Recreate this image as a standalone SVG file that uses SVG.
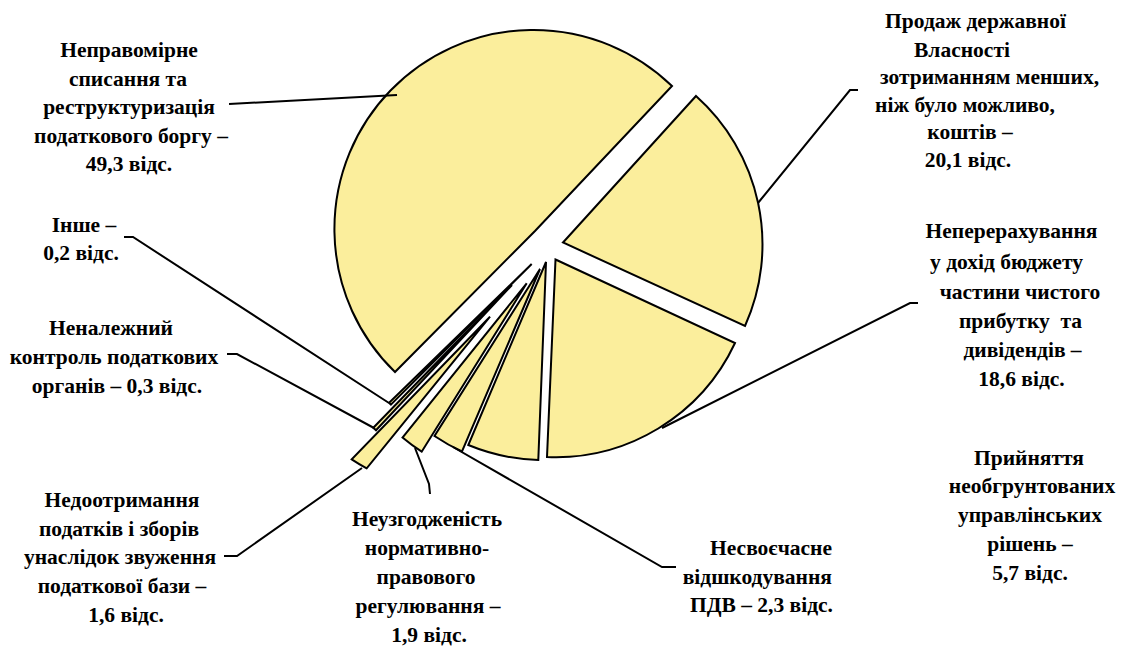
<svg xmlns="http://www.w3.org/2000/svg" width="1121" height="647" viewBox="0 0 1121 647">
<style>
.s{fill:#FBEE9C;stroke:#000;stroke-width:2;stroke-linejoin:miter}
.l{fill:none;stroke:#000;stroke-width:2}
.m{text-anchor:middle}
.e{text-anchor:end}
.p{white-space:pre}
</style>
<rect width="1121" height="647" fill="#fff"/>
<g id="slice-49-3"><path class="s" d="M535,231 L672,86 A199,199 0 0,0 395,372 Z"/></g>
<g id="slice-20-1"><path class="s" d="M563,242.5 L696,96 A199,199 0 0,1 745,326 Z"/></g>
<g id="slice-18-6"><path class="s" d="M555.5,259.5 L735,343 A198,198 0 0,1 547,457 Z"/></g>
<g id="slice-5-7"><path class="s" d="M546,262 L538.3,460 A198.5,198.5 0 0,1 468.3,445 Z"/></g>
<g id="slice-2-3"><path class="s" d="M540,269 L462,451.5 A198,198 0 0,1 434.5,436 Z"/></g>
<g id="slice-1-9"><path class="s" d="M526.7,283.3 L421.7,451.7 A198,198 0 0,1 402.5,437.5 Z"/></g>
<g id="slice-1-6"><path class="s" d="M490,316.7 L366.7,468.3 A197,197 0 0,1 351.7,459.3 Z"/></g>
<g id="slice-0-3"><path class="s" d="M512,285 L376,430.3 A199,199 0 0,1 373.3,427.7 Z"/></g>
<g id="slice-0-2"><path class="s" d="M531.7,264 L390.9,404.6 A199,199 0 0,1 389.1,402.8 Z"/></g>
<g id="connectors">
<polyline class="l" points="229,104 397,95"/>
<polyline class="l" points="758,203 850,90 858,90"/>
<polyline class="l" points="662,428 910,303 918,303"/>
<polyline class="l" points="124,237 133,237 389,403"/>
<polyline class="l" points="227,354 237,354 374,428"/>
<polyline class="l" points="224,556 237,556 362,468"/>
<polyline class="l" points="415,448 429,484 430,494"/>
<polyline class="l" points="453,447 662,567 676,567"/>
</g>
<g font-family="Liberation Serif, Times New Roman, serif" font-weight="700" font-size="21.5" fill="#000">
<g id="label-49-3">
<text class="m" x="129" y="57">Неправомірне</text>
<text class="m" x="128" y="85.5">списання та</text>
<text class="m" x="129" y="114">реструктуризація</text>
<text class="m" x="131" y="142.5">податкового боргу –</text>
<text class="m" x="129" y="171">49,3 відс.</text>
</g>
<g id="label-0-2">
<text class="m" x="84" y="231.5">Інше –</text>
<text class="m" x="81" y="260">0,2 відс.</text>
</g>
<g id="label-0-3">
<text class="m" x="111" y="335">Неналежний</text>
<text class="m" x="114" y="364">контроль податкових</text>
<text class="m" x="117" y="393">органів – 0,3 відс.</text>
</g>
<g id="label-1-6">
<text class="m" x="122" y="507">Недоотримання</text>
<text class="m" x="119" y="535.5">податків і зборів</text>
<text class="m" x="120" y="564">унаслідок звуження</text>
<text class="m" x="122" y="593">податкової бази –</text>
<text class="m" x="126" y="622">1,6 відс.</text>
</g>
<g id="label-1-9">
<text class="m" x="427" y="526">Неузгодженість</text>
<text class="m" x="427" y="555">нормативно-</text>
<text class="m" x="426" y="584">правового</text>
<text class="m" x="428" y="613">регулювання –</text>
<text class="m" x="429" y="641.5">1,9 відс.</text>
</g>
<g id="label-2-3">
<text class="e" x="832" y="555">Несвоєчасне</text>
<text class="e" x="832" y="583.5">відшкодування</text>
<text class="e" x="833" y="612">ПДВ – 2,3 відс.</text>
</g>
<g id="label-5-7">
<text class="m" x="1029" y="464.5">Прийняття</text>
<text class="m" x="1032" y="493">необгрунтованих</text>
<text class="m" x="1030" y="522">управлінських</text>
<text class="m" x="1030" y="551">рішень –</text>
<text class="m" x="1030" y="580">5,7 відс.</text>
</g>
<g id="label-18-6">
<text class="m" x="1011.5" y="238">Неперерахування</text>
<text class="m" x="1006.5" y="269">у дохід бюджету</text>
<text class="m" x="1020" y="299">частини чистого</text>
<text class="m p" x="1020.5" y="328">прибутку  та</text>
<text class="m" x="1022.5" y="357">дивідендів –</text>
<text class="m" x="1021.5" y="386">18,6 відс.</text>
</g>
<g id="label-20-1">
<text class="m" x="975.5" y="28">Продаж державної</text>
<text class="m" x="962" y="56.5">Власності</text>
<text class="m" x="989.5" y="83.5">зотриманням менших,</text>
<text class="m" x="965" y="111.5">ніж було можливо,</text>
<text class="m" x="970" y="138.5">коштів –</text>
<text class="m" x="968" y="166.5">20,1 відс.</text>
</g>
</g>
</svg>
